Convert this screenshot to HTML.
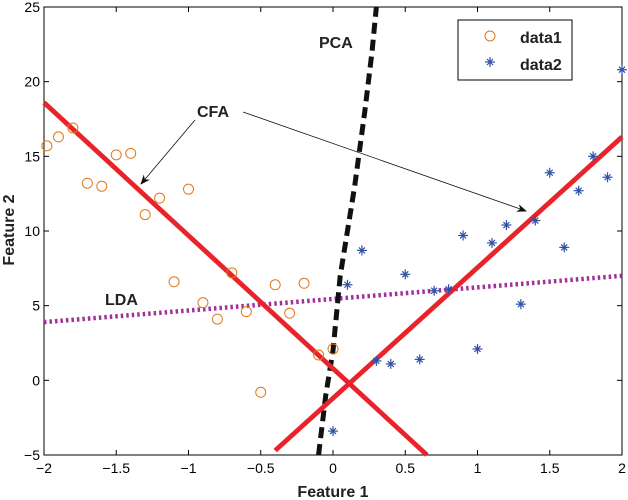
<!DOCTYPE html>
<html><head><meta charset="utf-8"><style>
body{margin:0;background:#fff}
svg{display:block;font-family:"Liberation Sans",Arial,sans-serif}
</style></head><body>
<svg id="chart" width="628" height="500" viewBox="0 0 628 500">
<defs><marker id="ah" markerWidth="10" markerHeight="8" refX="9" refY="4" orient="auto" markerUnits="userSpaceOnUse"><path d="M0,0 L10,4 L0,8 L3,4z" fill="#111"/></marker></defs>
<g id="plot"></g>
</svg>
<script>
const xTicks=[-2,-1.5,-1,-0.5,0,0.5,1,1.5,2];
const yTicks=[-5,0,5,10,15,20,25];
const data1X=[-1.98,-1.9,-1.8,-1.7,-1.6,-1.5,-1.4,-1.3,-1.2,-1.0,-1.1,-0.9,-0.8,-0.7,-0.6,-0.5,-0.4,-0.3,-0.2,-0.1,0];
const data1Y=[15.7,16.3,16.9,13.2,13.0,15.1,15.2,11.1,12.2,12.8,6.6,5.2,4.1,7.2,4.6,-0.8,6.4,4.5,6.5,1.7,2.1];
const data2X=[0,0.1,0.2,0.3,0.4,0.5,0.6,0.7,0.8,0.9,1.0,1.1,1.2,1.3,1.4,1.5,1.6,1.7,1.8,1.9,2.0];
const data2Y=[-3.4,6.4,8.7,1.3,1.1,7.1,1.4,6.0,6.1,9.7,2.1,9.2,10.4,5.1,10.7,13.9,8.9,12.7,15.0,13.6,20.8];
const cfa1X=[-2,0.65], cfa1Y=[18.6,-5];
const cfa2X=[-0.4,2], cfa2Y=[-4.7,16.3];
const ldaX=[-2,2], ldaY=[3.9,7.0];
const pcaX=[-0.1,-0.05,0,0.05,0.15,0.22,0.27,0.3];
const pcaY=[-5,-1,2,7,13,18,22,25];

const X0=44,X1=622,Y0=7,Y1=455;
const sx=v=>X0+(v+2)/4*(X1-X0);
const sy=v=>Y1-(v+5)/30*(Y1-Y0);
const NS="http://www.w3.org/2000/svg";
const svg=document.getElementById('chart');
function mk(t,a,p){const e=document.createElementNS(NS,t);for(const k in a)e.setAttribute(k,a[k]);(p||svg).appendChild(e);return e;}

let frame=mk('rect',{x:X0,y:Y0,width:X1-X0,height:Y1-Y0,fill:'none',stroke:'#000','stroke-width':1});


xTicks.forEach(t=>{
 const x=sx(t);
 mk('line',{x1:x,y1:Y1,x2:x,y2:Y1-5,stroke:'#000'});mk('line',{x1:x,y1:Y0,x2:x,y2:Y0+5,stroke:'#000'});
 const l=mk('text',{x:x,y:Y1+18,'text-anchor':'middle','font-size':14});l.textContent=String(t).replace('-','\u2212');
 
 
});
yTicks.forEach(t=>{
 const y=sy(t);
 mk('line',{x1:X0,y1:y,x2:X0+5,y2:y,stroke:'#000'});mk('line',{x1:X1,y1:y,x2:X1-5,y2:y,stroke:'#000'});
 const l=mk('text',{x:X0-4,y:y+5,'text-anchor':'end','font-size':14});l.textContent=String(t).replace('-','\u2212');
 
 
});
function line(xs,ys,attrs,name){
 const pts=xs.map((v,i)=>sx(v)+','+sy(ys[i])).join(' ');
 const e=mk('polyline',Object.assign({points:pts,fill:'none'},attrs));
 
 
}
line(ldaX,ldaY,{stroke:'#a0309a','stroke-width':4.5,'stroke-dasharray':'2.5 3'},'lda-line');
line(pcaX,pcaY,{stroke:'#111','stroke-width':5,'stroke-dasharray':'11 6'},'pca-line');
line(cfa1X,cfa1Y,{stroke:'#e8232a','stroke-width':4.8},'cfa-line-1');
line(cfa2X,cfa2Y,{stroke:'#e8232a','stroke-width':4.8},'cfa-line-2');
data1X.forEach((v,i)=>{
 const c=mk('circle',{cx:sx(v),cy:sy(data1Y[i]),r:5,fill:'none',stroke:'#e07818','stroke-width':1});
 
 
});
function star(x,y,p){const g=mk('g',{stroke:'#3050a8','stroke-width':1.2},p);
 mk('line',{x1:x-5,y1:y,x2:x+5,y2:y},g);mk('line',{x1:x,y1:y-5,x2:x,y2:y+5},g);
 mk('line',{x1:x-3,y1:y-3,x2:x+3,y2:y+3},g);mk('line',{x1:x-3,y1:y+3,x2:x+3,y2:y-3},g);return g;}
data2X.forEach((v,i)=>{
 const g=star(sx(v),sy(data2Y[i]));
 
 
});
let a1=mk('line',{x1:195,y1:120,x2:141,y2:184,stroke:'#111','stroke-width':0.8,'marker-end':'url(#ah)'});


let a2=mk('line',{x1:243,y1:112,x2:526,y2:211,stroke:'#111','stroke-width':0.8,'marker-end':'url(#ah)'});


function txt(x,y,s,size,name,extra){const t=mk('text',Object.assign({x:x,y:y,'font-size':size,'font-weight':'bold',fill:'#222'},extra||{}));t.textContent=s;
 
 return t;}
txt(319,48,'PCA',16,'pca-label');
txt(197,117,'CFA',16,'cfa-label');
txt(105,305,'LDA',16,'lda-label');
txt(333,497,'Feature 1',16,'x-axis-title',{'text-anchor':'middle'});
txt(14,230,'Feature 2',16,'y-axis-title',{'text-anchor':'middle',transform:'rotate(-90 14 230)'});
const lg=mk('g',{});


mk('rect',{x:458,y:20,width:114,height:60,fill:'#fff',stroke:'#000'},lg);
mk('circle',{cx:490,cy:36,r:5,fill:'none',stroke:'#e07818'},lg);
star(490,62,lg);
const t1=mk('text',{x:520,y:43,'font-size':16,'font-weight':'bold',fill:'#222'},lg);t1.textContent='data1';
const t2=mk('text',{x:520,y:70,'font-size':16,'font-weight':'bold',fill:'#222'},lg);t2.textContent='data2';
</script>
</body></html>
